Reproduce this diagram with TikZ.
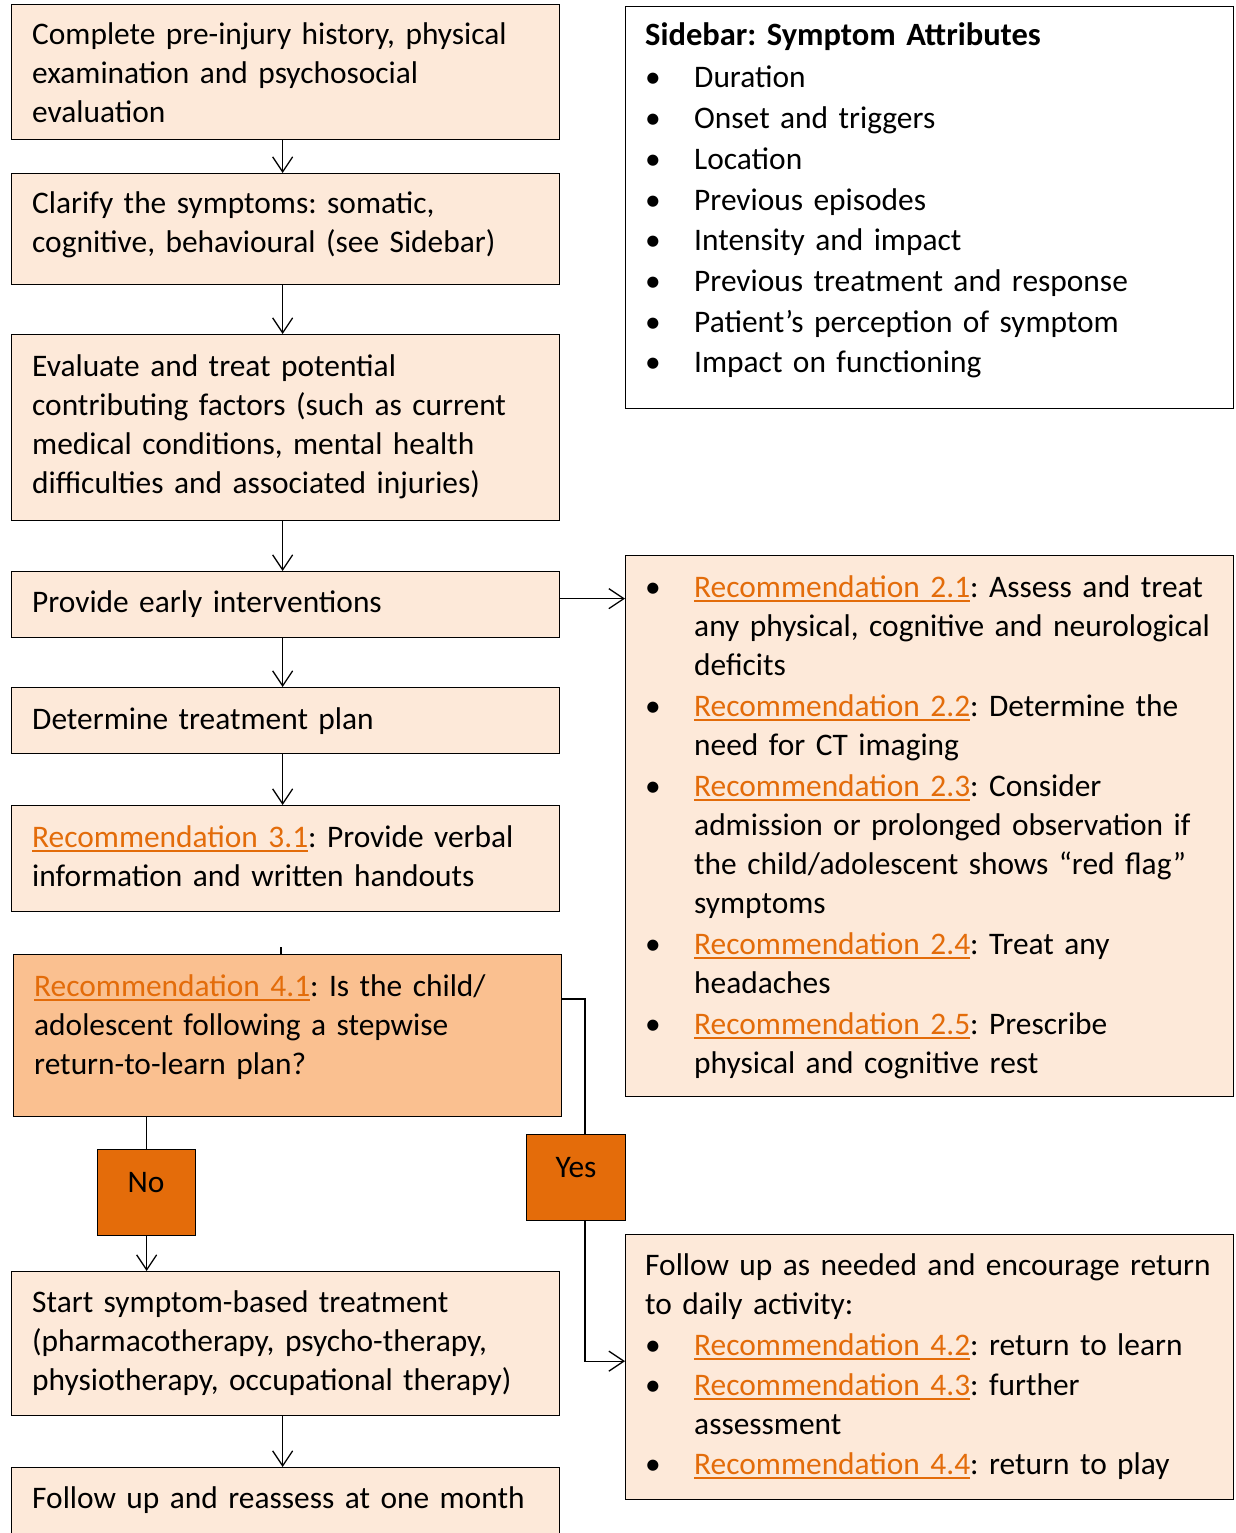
\documentclass[tikz,border=0pt]{standalone}
\usepackage{fontspec}
\setmainfont{Carlito}
\usetikzlibrary{arrows.meta}

\definecolor{peach}{HTML}{FDE9D9}
\definecolor{apricot}{HTML}{FAC090}
\definecolor{tangerine}{HTML}{E46C0A}
\definecolor{linkc}{HTML}{E36C0A}

% orange, underlined cross-reference
\newcommand\reclink[1]{{\color{linkc}\setbox0\hbox{#1}\rlap{\rule[-5pt]{\wd0}{2.2pt}}\box0}}
% bullet with hanging indent
\newcommand\bul{\makebox[49pt][l]{•}}
\newcommand\indentline{\hspace*{49pt}}
\frenchspacing

\tikzset{
  box/.style={draw, line width=1.3pt, fill=peach, inner sep=0pt, anchor=north west},
  txt/.style={anchor=base west, inner sep=0pt, text width=640pt, align=left,
              font=\fontsize{31.4}{39}\selectfont},
  arr/.style={line width=1.3pt, -{Straight Barb[length=15pt, width=20pt]}},
  link/.style={line width=1.3pt},
}

\begin{document}
\begin{tikzpicture}[x=1pt, y=-1pt]
\useasboundingbox (0,0) rectangle (1235,1533);

% left column of steps
\node[box, minimum width=548pt, minimum height=135pt] (b1) at (11,4) {};
\node[box, minimum width=548pt, minimum height=111pt] (b2) at (11,173) {};
\node[box, minimum width=548pt, minimum height=186pt] (b3) at (11,334) {};
\node[box, minimum width=548pt, minimum height=66pt]  (b4) at (11,571) {};
\node[box, minimum width=548pt, minimum height=66pt]  (b5) at (11,687) {};
\node[box, minimum width=548pt, minimum height=106pt] (b6) at (11,805) {};
\node[box, fill=apricot, minimum width=548pt, minimum height=162pt] (b7) at (13,954) {};
\node[box, fill=tangerine, minimum width=98pt, minimum height=86pt] (no) at (97,1149) {};
\node[box, fill=tangerine, minimum width=99pt, minimum height=86pt] (yes) at (526,1134) {};
\node[box, minimum width=548pt, minimum height=144pt] (b8) at (11,1271) {};
\node[box, minimum width=548pt, minimum height=90pt]  (b9) at (11,1467) {};

% right column
\node[box, fill=white, minimum width=608pt, minimum height=402pt] (sb) at (625,6) {};
\node[box, minimum width=608pt, minimum height=541pt] (r2) at (625,555) {};
\node[box, minimum width=608pt, minimum height=265pt] (r3) at (625,1234) {};

% texts of the steps
\node[txt] (t1) at (32,45) {Complete pre-injury history, physical\\examination and psychosocial\\evaluation};
\node[txt] (t2) at (32,214) {Clarify the symptoms: somatic,\\cognitive, behavioural (see Sidebar)};
\node[txt] (t3) at (32,376) {Evaluate and treat potential\\contributing factors (such as current\\medical conditions, mental health\\difficulties and associated injuries)};
\node[txt] (t4) at (32,612) {Provide early interventions};
\node[txt] (t5) at (32,729) {Determine treatment plan};
\node[txt] (t6) at (32,847) {\reclink{Recommendation 3.1}: Provide verbal\\information and written handouts};
\node[txt] (t7) at (34,996) {\reclink{Recommendation 4.1}: Is the child/\\adolescent following a stepwise\\return-to-learn plan?};
\node[anchor=base, inner sep=0pt, font=\fontsize{31.4}{39}\selectfont] (tno) at (146,1192) {No};
\node[anchor=base, inner sep=0pt, font=\fontsize{31.4}{39}\selectfont] (tyes) at (576,1177) {Yes};
\node[txt] (t8) at (32,1312) {Start symptom-based treatment\\(pharmacotherapy, psycho-therapy,\\physiotherapy, occupational therapy)};
\node[txt] (t9) at (32,1508) {Follow up and reassess at one month};

% sidebar
\node[txt, font=\fontsize{31.4}{40.7}\selectfont] (tsb) at (645,46) {{\fontsize{32.5}{40.7}\selectfont\textbf{Sidebar: Symptom Attributes}}\\[1.3pt]
\bul Duration\\
\bul Onset and triggers\\
\bul Location\\
\bul Previous episodes\\
\bul Intensity and impact\\
\bul Previous treatment and response\\
\bul Patient’s perception of symptom\\
\bul Impact on functioning};

% early interventions
\node[txt] (tr2) at (645,597) {\bul\reclink{Recommendation 2.1}: Assess and treat\\
\indentline any physical, cognitive and neurological\\
\indentline deficits\\[2pt]
\bul\reclink{Recommendation 2.2}: Determine the\\
\indentline need for CT imaging\\[2pt]
\bul\reclink{Recommendation 2.3}: Consider\\
\indentline admission or prolonged observation if\\
\indentline the child/adolescent shows “red flag”\\
\indentline symptoms\\[2pt]
\bul\reclink{Recommendation 2.4}: Treat any\\
\indentline headaches\\[2pt]
\bul\reclink{Recommendation 2.5}: Prescribe\\
\indentline physical and cognitive rest};

% follow-up
\node[txt] (tr3) at (645,1275) {Follow up as needed and encourage return\\
to daily activity:\\[2pt]
\bul\reclink{Recommendation 4.2}: return to learn\\[1pt]
\bul\reclink{Recommendation 4.3}: further\\[0pt]
\indentline assessment\\[1pt]
\bul\reclink{Recommendation 4.4}: return to play};

% connectors
\draw[arr] ([xshift=-3pt]b1.south) -- ([xshift=-3pt]b2.north);
\draw[arr] ([xshift=-3pt]b2.south) -- ([xshift=-3pt]b3.north);
\draw[arr] ([xshift=-3pt]b3.south) -- ([xshift=-3pt]b4.north);
\draw[arr] ([xshift=-3pt]b4.south) -- ([xshift=-3pt]b5.north);
\draw[arr] ([xshift=-3pt]b5.south) -- ([xshift=-3pt]b6.north);
\draw[arr] ([yshift=6pt]b4.east) -- ([yshift=6pt]b4.east -| r2.west);
\draw[link] (b7.north -| 281,0) -- ++(0,-7);
\draw[link] (b7.south -| no.north) -- (no.north);
\draw[arr] (no.south) -- (no.south |- b8.north);
\coordinate (ykink) at (585,999);
\draw[link] (b7.east |- ykink) -- (ykink) -- (ykink |- yes.north);
\draw[arr] (ykink |- yes.south) |- ([yshift=6pt]r3.west);
\draw[arr] ([xshift=-3pt]b8.south) -- ([xshift=-3pt]b9.north);
\end{tikzpicture}
\end{document}
